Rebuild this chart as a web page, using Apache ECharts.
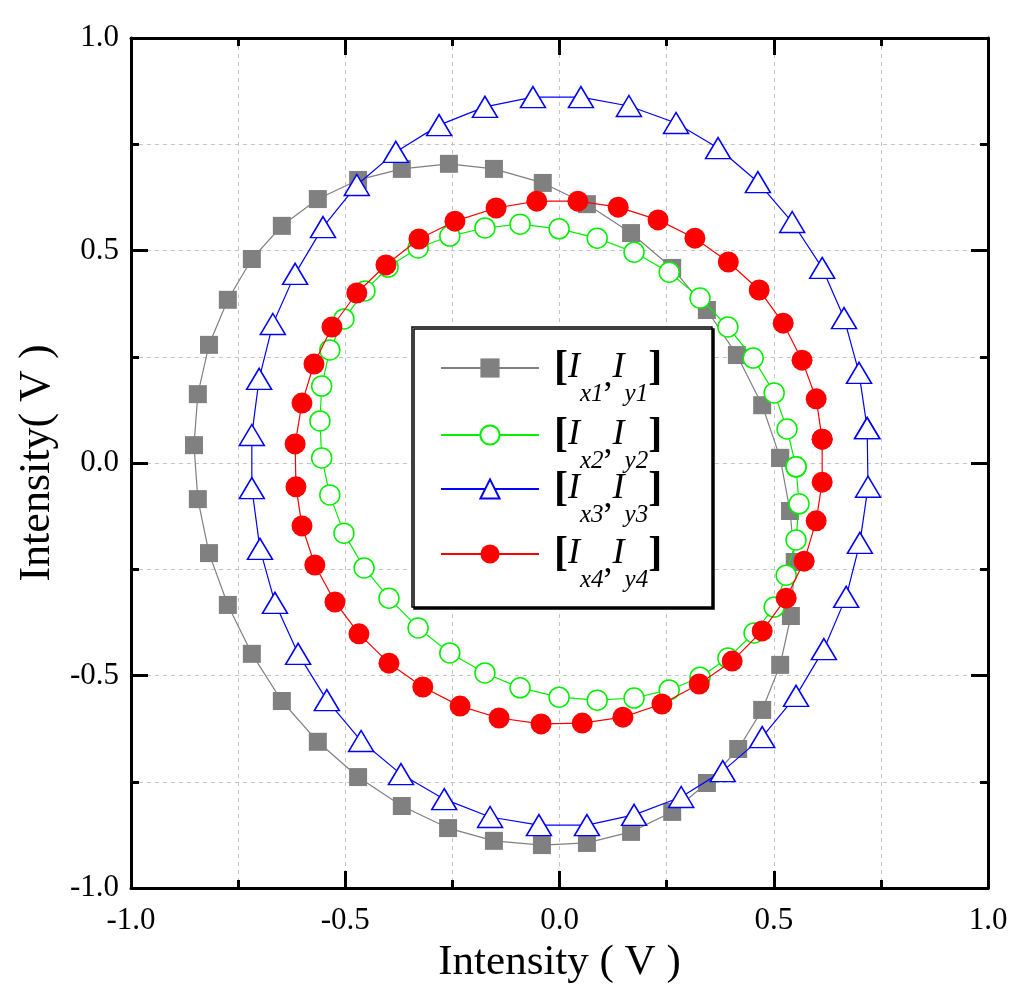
<!DOCTYPE html>
<html>
<head>
<meta charset="utf-8">
<script src="https://cdn.jsdelivr.net/npm/echarts@6/dist/echarts.min.js"></script>
<style>html,body{margin:0;padding:0;background:#fff}#c{width:1024px;height:997px}</style>
</head>
<body>
<div id="c"></div>
<script>
// ---- data ----
const seriesNames = ['[Ix1,Iy1]', '[Ix2,Iy2]', '[Ix3,Iy3]', '[Ix4,Iy4]'];
const subX = ['x1', 'x2', 'x3', 'x4'];
const subY = ['y1', 'y2', 'y3', 'y4'];

const grayData = [
  [0.515,0.012],[0.473,0.136],[0.414,0.254],[0.344,0.360],[0.263,0.459],[0.167,0.541],
  [0.064,0.609],[-0.039,0.659],[-0.153,0.692],[-0.258,0.704],[-0.368,0.692],[-0.470,0.666],
  [-0.564,0.621],[-0.648,0.558],[-0.718,0.480],[-0.774,0.384],[-0.818,0.278],[-0.844,0.162],
  [-0.853,0.042],[-0.844,-0.085],[-0.818,-0.212],[-0.774,-0.334],[-0.718,-0.449],[-0.648,-0.560],
  [-0.564,-0.656],[-0.470,-0.739],[-0.368,-0.807],[-0.260,-0.859],[-0.153,-0.889],[-0.041,-0.899],
  [0.064,-0.894],[0.167,-0.868],[0.263,-0.821],[0.344,-0.753],[0.417,-0.673],[0.473,-0.581],
  [0.515,-0.475],[0.540,-0.360],[0.549,-0.233],[0.538,-0.113]
];
const greenData = [
  [0.552,-0.009],[0.531,0.080],[0.501,0.165],[0.452,0.247],[0.393,0.320],[0.328,0.388],
  [0.256,0.449],[0.174,0.496],[0.088,0.529],[-0.001,0.551],[-0.092,0.562],[-0.174,0.553],
  [-0.256,0.534],[-0.330,0.506],[-0.400,0.461],[-0.454,0.405],[-0.503,0.339],[-0.536,0.266],
  [-0.555,0.181],[-0.559,0.099],[-0.555,0.012],[-0.536,-0.075],[-0.503,-0.165],[-0.456,-0.247],
  [-0.398,-0.318],[-0.330,-0.388],[-0.256,-0.447],[-0.174,-0.494],[-0.092,-0.529],[-0.001,-0.551],
  [0.088,-0.558],[0.174,-0.553],[0.256,-0.534],[0.328,-0.504],[0.393,-0.459],[0.454,-0.400],
  [0.501,-0.339],[0.529,-0.264],[0.552,-0.181],[0.559,-0.096]
];
const blueData = [
  [0.718,0.082],[0.699,0.212],[0.664,0.341],[0.613,0.459],[0.543,0.567],[0.463,0.661],
  [0.370,0.741],[0.272,0.800],[0.162,0.840],[0.050,0.861],[-0.062,0.861],[-0.174,0.838],
  [-0.281,0.795],[-0.382,0.732],[-0.473,0.654],[-0.552,0.555],[-0.617,0.445],[-0.669,0.327],
  [-0.701,0.198],[-0.718,0.066],[-0.718,-0.059],[-0.699,-0.202],[-0.664,-0.329],[-0.610,-0.449],
  [-0.543,-0.558],[-0.463,-0.654],[-0.370,-0.732],[-0.269,-0.791],[-0.162,-0.833],[-0.048,-0.852],
  [0.064,-0.852],[0.174,-0.828],[0.284,-0.786],[0.381,-0.725],[0.473,-0.645],[0.552,-0.548],
  [0.617,-0.438],[0.669,-0.315],[0.701,-0.188],[0.720,-0.056]
];
const redData = [
  [0.613,0.056],[0.599,0.151],[0.566,0.242],[0.522,0.329],[0.466,0.407],[0.394,0.473],
  [0.316,0.529],[0.230,0.572],[0.137,0.602],[0.043,0.616],[-0.053,0.616],[-0.148,0.600],
  [-0.244,0.569],[-0.328,0.527],[-0.405,0.466],[-0.473,0.400],[-0.531,0.320],[-0.573,0.233],
  [-0.601,0.141],[-0.617,0.045],[-0.615,-0.056],[-0.601,-0.148],[-0.571,-0.240],[-0.524,-0.327],
  [-0.468,-0.402],[-0.398,-0.471],[-0.319,-0.527],[-0.232,-0.572],[-0.141,-0.600],[-0.043,-0.614],
  [0.053,-0.612],[0.148,-0.598],[0.239,-0.567],[0.326,-0.520],[0.403,-0.466],[0.473,-0.395],
  [0.529,-0.318],[0.571,-0.231],[0.599,-0.136],[0.613,-0.045]
];

// ---- chart ----
const FONT = 'Liberation Serif';
const chart = echarts.init(document.getElementById('c'), null, {renderer: 'canvas'});

function closeLoop(arr) { return arr.concat([arr[0]]); }

const gridColor = '#c4c4c4';
const axisCommon = {
  min: -1, max: 1, interval: 0.5,
  axisLine: {show: true, onZero: false, lineStyle: {color: '#000', width: 3}},
  axisTick: {show: true, inside: true, length: 17, lineStyle: {color: '#000', width: 3}},
  minorTick: {show: true, splitNumber: 2, length: 8, lineStyle: {color: '#000', width: 3}},
};

const xMain = Object.assign({}, axisCommon, {
  type: 'value', position: 'bottom',
  axisLabel: {show: true, margin: 17, color: '#000', fontFamily: FONT, fontSize: 31,
    formatter: v => v.toFixed(1)},
  splitLine: {show: true, lineStyle: {color: gridColor, width: 1, type: [4, 4]}},
  minorSplitLine: {show: true, lineStyle: {color: gridColor, width: 1, type: [4, 4]}},
  name: 'Intensity ( V )', nameLocation: 'middle', nameGap: 48,
  nameTextStyle: {color: '#000', fontFamily: FONT, fontSize: 43}
});
const xTop = Object.assign({}, axisCommon, {
  type: 'value', position: 'top',
  axisLabel: {show: false}, splitLine: {show: false}, minorSplitLine: {show: false}
});
const yMain = Object.assign({}, axisCommon, {
  type: 'value', position: 'left',
  axisLabel: {show: true, margin: 12, color: '#000', fontFamily: FONT, fontSize: 31,
    formatter: v => v.toFixed(1)},
  splitLine: {show: true, lineStyle: {color: gridColor, width: 1, type: [4, 4]}},
  minorSplitLine: {show: true, lineStyle: {color: gridColor, width: 1, type: [4, 4]}},
  name: 'Intensity( V )', nameLocation: 'middle', nameGap: 70, nameRotate: 90,
  nameTextStyle: {color: '#000', fontFamily: FONT, fontSize: 44}
});
const yRight = Object.assign({}, axisCommon, {
  type: 'value', position: 'right',
  axisLabel: {show: false}, splitLine: {show: false}, minorSplitLine: {show: false}
});

const styles = [
  {color: '#808080', symbol: 'rect', size: 18, fill: '#808080'},
  {color: '#00f000', symbol: 'circle', size: 20, fill: '#ffffff'},
  {color: '#0000ff', symbol: 'triangle', size: [25, 21], fill: '#ffffff'},
  {color: '#ff0000', symbol: 'circle', size: 21, fill: '#ff0000'}
];
const datasets = [grayData, greenData, blueData, redData];

const series = datasets.map((d, i) => ({
  name: seriesNames[i],
  type: 'line',
  xAxisIndex: 0, yAxisIndex: 0,
  data: closeLoop(d),
  symbol: styles[i].symbol,
  symbolSize: styles[i].size,
  showAllSymbol: true,
  lineStyle: {color: styles[i].color, width: 1.2},
  itemStyle: {color: styles[i].fill, borderColor: styles[i].color, borderWidth: styles[i].fill === '#ffffff' ? 1.5 : 0},
  emphasis: {disabled: true},
  animation: false,
  z: 2 + i * 0.01
}));

const entryY = [368, 435, 489, 554];
const LH = 78;
const rich = {
  sp: {width: 10, fontSize: 20, lineHeight: LH},
  b: {fontFamily: FONT, fontSize: 42, fontWeight: 'bold', color: '#000', lineHeight: LH},
  i: {fontFamily: FONT, fontSize: 36, fontStyle: 'italic', color: '#000', lineHeight: LH},
  c: {fontFamily: FONT, fontSize: 36, color: '#000', padding: [18, 0, 0, 0], lineHeight: LH},
  s: {fontFamily: FONT, fontSize: 25, fontStyle: 'italic', color: '#000', height: 25, padding: [53, 0, 0, 0], lineHeight: LH}
};
const legends = seriesNames.map((n, i) => ({
  data: [n],
  left: 440, top: entryY[i] - 39,
  padding: 0, itemWidth: 98, itemHeight: 24,
  selectedMode: false, z: 20,
  formatter: () => '{sp|}{b|[}{i|I}{s|' + subX[i] + '}{c|,}{i|I}{s|' + subY[i] + '}{b|]}',
  textStyle: {rich: rich}
}));

chart.setOption({
  backgroundColor: '#fff',
  animation: false,
  grid: {left: 131, right: 36, top: 38, bottom: 109, containLabel: false},
  xAxis: [xMain, xTop],
  yAxis: [yMain, yRight],
  legend: legends,
  graphic: [{
    type: 'rect', z: 10,
    shape: {x: 412, y: 327, width: 300, height: 280},
    style: {fill: '#fff', stroke: '#000', lineWidth: 1.5,
      shadowColor: '#000', shadowOffsetX: 2, shadowOffsetY: 2, shadowBlur: 0}
  }],
  series: series
});
</script>
</body>
</html>
